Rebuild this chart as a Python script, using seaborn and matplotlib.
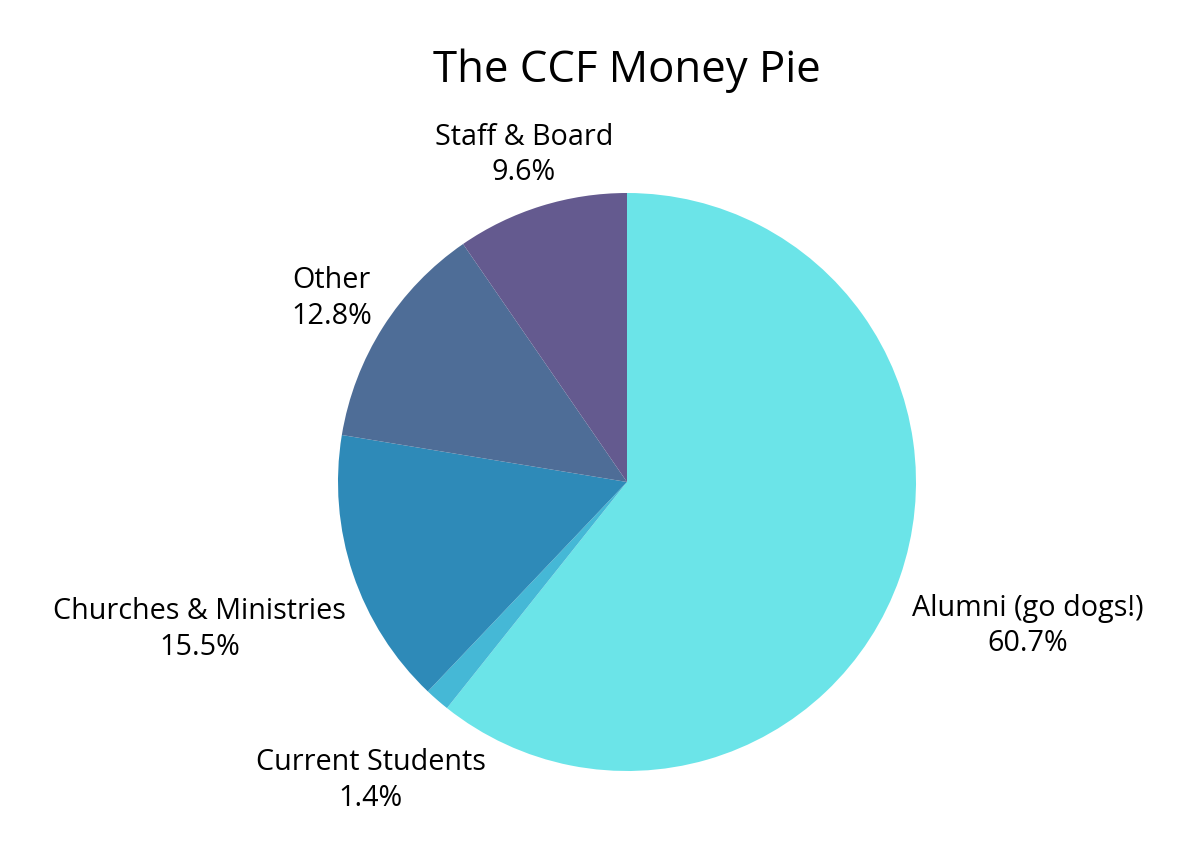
import numpy as np
import seaborn as sns
import matplotlib.pyplot as plt

# data
categories = ["Alumni (go dogs!)", "Current Students", "Churches & Ministries", "Other", "Staff & Board"]
shares = [60.7, 1.4, 15.5, 12.8, 9.6]
colors = ["#6be4e8", "#45b8d6", "#2e8ab8", "#4e6d97", "#645a8f"]

# how far out each label sits (in pie radii)
label_dist = [1.47, 1.35, 1.56, 1.21, 1.20]

sns.set_theme(style="white")
plt.rcParams["font.family"] = ["Open Sans", "DejaVu Sans"]

fig = plt.figure(figsize=(11.99, 8.63), dpi=100)
ax = fig.add_axes([0, 0, 1, 1])

r_px = 289
cx, cy = 627, 863 - 482
wedges, _ = ax.pie(shares, colors=sns.color_palette(colors), startangle=90,
                   counterclock=False, radius=1,
                   wedgeprops=dict(linewidth=0))

for w, name, val, d in zip(wedges, categories, shares, label_dist):
    ang = np.deg2rad((w.theta1 + w.theta2) / 2)
    ax.text(d * np.cos(ang), d * np.sin(ang) - 4 / r_px, f"{name}\n{val}%",
            ha="center", va="center", fontsize=20.7, color="#000000",
            linespacing=1.3)

ax.set_xlim(-cx / r_px, (1199 - cx) / r_px)
ax.set_ylim(-cy / r_px, (863 - cy) / r_px)
ax.set_aspect("equal")
ax.axis("off")

fig.text(627 / 1199, 1 - 71 / 863, "The CCF Money Pie", ha="center", va="center",
         fontsize=31.5, color="#000000")

fig.savefig("out.png", dpi=100)
